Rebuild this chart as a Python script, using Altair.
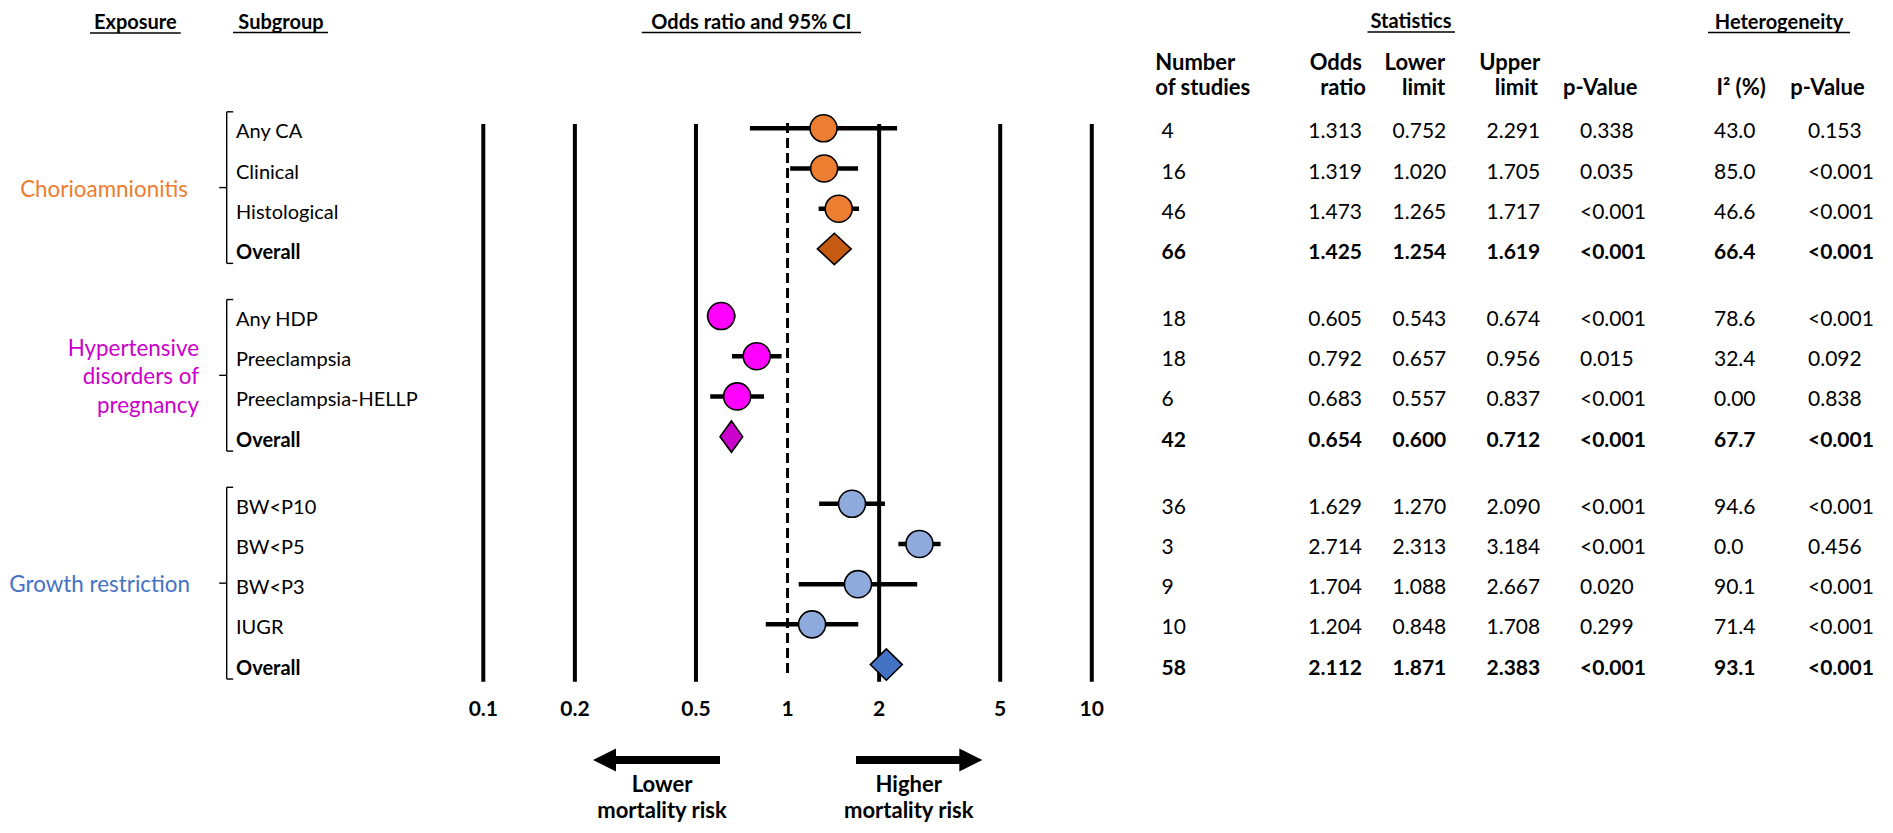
import altair as alt
import pandas as pd

FONT = "Lato"

# ---------------- data ----------------
exposures = [["Chorioamnionitis"], ["Hypertensive", "disorders of", "pregnancy"], ["Growth restriction"]]
exposure_colors = ["#ED7D31", "#CC00CC", "#4472C4"]
circle_colors = ["#ED7D31", "#FF00FF", "#8FAADC"]
diamond_colors = ["#C55A11", "#CC00CC", "#4472C4"]

group = [0, 0, 0, 0, 1, 1, 1, 1, 2, 2, 2, 2, 2]
subgroups = ["Any CA", "Clinical", "Histological", "Overall",
             "Any HDP", "Preeclampsia", "Preeclampsia-HELLP", "Overall",
             "BW<P10", "BW<P5", "BW<P3", "IUGR", "Overall"]
n_studies = ["4", "16", "46", "66", "18", "18", "6", "42", "36", "3", "9", "10", "58"]
odds = [1.313, 1.319, 1.473, 1.425, 0.605, 0.792, 0.683, 0.654, 1.629, 2.714, 1.704, 1.204, 2.112]
lower = [0.752, 1.020, 1.265, 1.254, 0.543, 0.657, 0.557, 0.600, 1.270, 2.313, 1.088, 0.848, 1.871]
upper = [2.291, 1.705, 1.717, 1.619, 0.674, 0.956, 0.837, 0.712, 2.090, 3.184, 2.667, 1.708, 2.383]
p_value = ["0.338", "0.035", "<0.001", "<0.001", "<0.001", "0.015", "<0.001", "<0.001",
           "<0.001", "<0.001", "0.020", "0.299", "<0.001"]
i2 = ["43.0", "85.0", "46.6", "66.4", "78.6", "32.4", "0.00", "67.7", "94.6", "0.0", "90.1", "71.4", "93.1"]
het_p = ["0.153", "<0.001", "<0.001", "<0.001", "<0.001", "0.092", "0.838", "<0.001",
         "<0.001", "0.456", "<0.001", "<0.001", "<0.001"]
ticks = [0.1, 0.2, 0.5, 1, 2, 5, 10]
tick_labels = ["0.1", "0.2", "0.5", "1", "2", "5", "10"]

# ---------------- layout helpers ----------------
GROUP_GAP = 0.67
rows = [i + GROUP_GAP * g for i, g in enumerate(group)]
is_overall = [s == "Overall" for s in subgroups]

table = pd.DataFrame({
    "row": rows, "group": group, "sub": subgroups, "overall": is_overall,
    "n": n_studies, "odds": odds, "lower": lower, "upper": upper,
    "or_txt": [f"{v:.3f}" for v in odds],
    "lo_txt": [f"{v:.3f}" for v in lower],
    "up_txt": [f"{v:.3f}" for v in upper],
    "p": p_value, "i2": i2, "hp": het_p,
    "cfill": [circle_colors[g] for g in group],
})

xscale = alt.Scale(type="log", domain=[0.1, 10], range=[475.3, 1083.8], nice=False)
yscale = alt.Scale(type="linear", domain=[0, 10], range=[120.3, 522.3], nice=False, zero=False)
X = lambda f: alt.X(f, type="quantitative", scale=xscale, axis=None)
Y = lambda f: alt.Y(f, type="quantitative", scale=yscale, axis=None)

one = pd.DataFrame({"k": [0]})


def fixed_text(text, x, y, size=20, weight="normal", align="center", color="black"):
    return alt.Chart(one).mark_text(
        text=text, fontSize=size, fontWeight=weight, align=align, baseline="middle",
        color=color, font=FONT
    ).encode(x=alt.value(x), y=alt.value(y))


def fixed_rule(x, x2, y, y2, width=1.6, color="black"):
    return alt.Chart(one).mark_rule(strokeWidth=width, color=color).encode(
        x=alt.value(x), x2=alt.value(x2), y=alt.value(y), y2=alt.value(y2))


layers = []

# ---------------- forest plot ----------------
tick_df = pd.DataFrame({"t": ticks, "lab": tick_labels})
layers.append(alt.Chart(tick_df).transform_filter("datum.t != 1").mark_rule(
    strokeWidth=4, color="black").encode(x=X("t"), y=alt.value(116), y2=alt.value(673.7)))
layers.append(alt.Chart(tick_df).transform_filter("datum.t == 1").mark_rule(
    strokeWidth=3, color="black", strokeDash=[10, 5]).encode(x=X("t"), y=alt.value(115), y2=alt.value(668.7)))
layers.append(alt.Chart(tick_df).mark_text(
    fontSize=21, fontWeight="bold", font=FONT, baseline="middle", color="black").encode(
    x=X("t"), y=alt.value(702), text="lab:N"))

sub_rows = table[~table.overall]
layers.append(alt.Chart(sub_rows).mark_rule(strokeWidth=4.5, color="black").encode(
    x=X("lower"), x2=alt.X2("upper"), y=Y("row")))
layers.append(alt.Chart(sub_rows).mark_point(
    shape="circle", filled=True, size=730, stroke="black", strokeWidth=1.6, opacity=1).encode(
    x=X("odds"), y=Y("row"), fill=alt.Fill("cfill:N", scale=None)))

H = 0.39
dia = []
for r in table[table.overall].itertuples():
    c = diamond_colors[r.group]
    dia.append({"id": r.group, "x": r.lower, "y": r.row, "y2": r.row, "c": c})
    dia.append({"id": r.group, "x": r.odds, "y": r.row - H, "y2": r.row + H, "c": c})
    dia.append({"id": r.group, "x": r.upper, "y": r.row, "y2": r.row, "c": c})
dia = pd.DataFrame(dia)
layers.append(alt.Chart(dia).mark_area(
    orient="vertical", stroke="black", strokeWidth=1.6, opacity=1, fillOpacity=1).encode(
    x=X("x"), y=Y("y"), y2=alt.Y2("y2"), detail="id:N", fill=alt.Fill("c:N", scale=None)))

# ---------------- subgroup labels ----------------
for bold in (False, True):
    d = table[table.overall == bold]
    layers.append(alt.Chart(d).mark_text(
        align="left", baseline="middle", dy=4, fontSize=20, font=FONT,
        fontWeight="bold" if bold else "normal", color="black").encode(
        x=alt.value(228), y=Y("row"), text="sub:N"))

# ---------------- brackets & exposure labels ----------------
LINE_H = 28.5 / 40.2
label_right = [180, 191, 182]
br = []
lab = []
for g in range(3):
    rr = table[table.group == g].row
    top, bot = rr.min() - 0.41, rr.max() + 0.36
    mid = (top + bot) / 2
    br.append({"g": g, "top": top, "bot": bot, "mid": mid})
    n = len(exposures[g])
    for k, line in enumerate(exposures[g]):
        lab.append({"g": g, "y": mid + (k - (n - 1) / 2) * LINE_H, "t": line,
                    "col": exposure_colors[g]})
br = pd.DataFrame(br)
lab = pd.DataFrame(lab)
BX = 218.7
layers.append(alt.Chart(br).mark_rule(strokeWidth=1.4, color="black").encode(
    x=alt.value(BX), y=Y("top"), y2=alt.Y2("bot")))
layers.append(alt.Chart(br).mark_rule(strokeWidth=1.4, color="black").encode(
    x=alt.value(BX), x2=alt.value(BX + 6.5), y=Y("top")))
layers.append(alt.Chart(br).mark_rule(strokeWidth=1.4, color="black").encode(
    x=alt.value(BX), x2=alt.value(BX + 6.5), y=Y("bot")))
layers.append(alt.Chart(br).mark_rule(strokeWidth=1.4, color="black").encode(
    x=alt.value(BX - 7.5), x2=alt.value(BX), y=Y("mid")))
for g in range(3):
    layers.append(alt.Chart(lab[lab.g == g]).mark_text(
        align="right", baseline="middle", dy=2, fontSize=22.4, font=FONT).encode(
        x=alt.value(label_right[g]), y=Y("y"), text="t:N",
        color=alt.Color("col:N", scale=None)))

# ---------------- statistics table ----------------
columns = [("n", 1153.6, "left"), ("or_txt", 1354, "right"), ("lo_txt", 1438.3, "right"),
           ("up_txt", 1532.2, "right"), ("p", 1572, "left"), ("i2", 1706, "left"), ("hp", 1800, "left")]
for field, x, al in columns:
    for bold in (False, True):
        d = table[table.overall == bold]
        layers.append(alt.Chart(d).mark_text(
            align=al, baseline="middle", dy=4, fontSize=21, font=FONT,
            fontWeight="bold" if bold else "normal", color="black").encode(
            x=alt.value(x), y=Y("row"), text=alt.Text(field, type="nominal")))

headers = [("Number", 1147.3, 55.3, "left"), ("of studies", 1147.3, 80.3, "left"),
           ("Odds", 1354, 55.3, "right"), ("ratio", 1358, 80.3, "right"),
           ("Lower", 1437.3, 55.3, "right"), ("limit", 1437.3, 80.3, "right"),
           ("Upper", 1532.2, 55.3, "right"), ("limit", 1530, 80.3, "right"),
           ("p-Value", 1555, 80.3, "left"), ("I² (%)", 1708.4, 80.3, "left"),
           ("p-Value", 1782.3, 80.3, "left")]
for t, x, y, al in headers:
    layers.append(fixed_text(t, x, y, size=22, weight="bold", align=al))

# ---------------- titles (underlined) ----------------
titles = [("Exposure", 127.3, 15, 82, 172.7, 25),
          ("Subgroup", 273, 14.5, 225, 320, 24.5),
          ("Odds ratio and 95% CI", 743.4, 14.5, 633.8, 853, 24.5),
          ("Statistics", 1403, 14, 1359.5, 1447, 24),
          ("Heterogeneity", 1771, 14.5, 1700, 1842, 24.5)]
for t, x, y, ux1, ux2, uy in titles:
    layers.append(fixed_text(t, x, y, weight="bold"))
    layers.append(fixed_rule(ux1, ux2, uy, uy, width=1.5))

# ---------------- arrows ----------------
layers.append(fixed_rule(606, 712, 752, 752, width=8))
layers.append(fixed_rule(848, 953, 752, 752, width=8))
layers.append(alt.Chart(one).mark_point(
    shape="M-1,0L1,-1L1,1Z", filled=True, size=529, color="black", opacity=1).encode(
    x=alt.value(596.5), y=alt.value(752)))
layers.append(alt.Chart(one).mark_point(
    shape="M1,0L-1,-1L-1,1Z", filled=True, size=529, color="black", opacity=1).encode(
    x=alt.value(962.8), y=alt.value(752)))
layers.append(fixed_text("Lower", 654, 777, size=22, weight="bold"))
layers.append(fixed_text("mortality risk", 654, 803, size=22, weight="bold"))
layers.append(fixed_text("Higher", 900.75, 777, size=22, weight="bold"))
layers.append(fixed_text("mortality risk", 900.75, 803, size=22, weight="bold"))

chart = alt.layer(*layers).properties(
    width=1877, height=817, autosize=alt.AutoSizeParams(type="none"), padding=0
).configure_view(strokeWidth=0)

chart.save("out.html", embed_options={"renderer": "svg", "actions": False})
